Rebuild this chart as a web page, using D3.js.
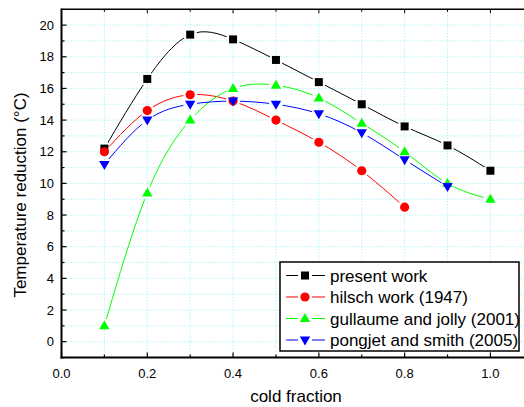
<!DOCTYPE html>
<html><head><meta charset="utf-8">
<script src="https://cdn.jsdelivr.net/npm/d3@7"></script>
<style>body{margin:0;background:#fff}svg{display:block;font-family:"Liberation Sans",Arial,sans-serif}</style>
</head><body>
<svg id="c" width="524" height="407"></svg>
<script>
const coldFraction = [0.1,0.2,0.3,0.4,0.5,0.6,0.7,0.8,0.9,1.0];
const presentWork = [12.2,16.6,19.4,19.1,17.8,16.4,15.0,13.6,12.4,10.8];
const hilschWork = [12.0,14.6,15.6,15.2,14.0,12.6,10.8,8.5];
const gullaumeJolly = [1.0,9.4,14.0,16.0,16.2,15.4,13.8,12.0,10.0,9.0];
const pongjetSmith = [11.2,14.0,15.0,15.2,15.0,14.4,13.2,11.5,9.8];
const seriesNames = ["present work","hilsch work (1947)","gullaume and jolly (2001)","pongjet and smith (2005)"];
const seriesColors = ["#000000","#ff0000","#00ff00","#0000ff"];
const seriesSymbols = ["square","circle","triUp","triDown"];
const xTicks = [0.0,0.2,0.4,0.6,0.8,1.0];
const yTicks = [0,2,4,6,8,10,12,14,16,18,20];
const xLabel = "cold fraction";
const yLabel = "Temperature reduction (\u00B0C)";

const svg = d3.select("#c");
const x = d3.scaleLinear().domain([0,1.1]).range([61.5,533.3]);
const y = d3.scaleLinear().domain([-1,21]).range([357.5,9.3]);
const L = x(0), B = y(-1), T = y(21), R = x(1.1);

// grid
const g = svg.append("g");
d3.range(1,12).map(i=>i/10).forEach(v=>{
  g.append("line").attr("x1",x(v)).attr("x2",x(v)).attr("y1",T).attr("y2",B)
   .attr("stroke","#8ff0f4").attr("stroke-width",1).attr("stroke-dasharray","1,2");
});
d3.range(0,21).forEach(v=>{
  g.append("line").attr("x1",L).attr("x2",R).attr("y1",y(v)).attr("y2",y(v))
   .attr("stroke","#8ff0f4").attr("stroke-width",1).attr("stroke-dasharray","1,2");
});

const allData = [presentWork,hilschWork,gullaumeJolly,pongjetSmith];
const defs = svg.append("defs");
function symPath(type, cx, cy){
  if(type==="square") return `M${cx-4},${cy-4}h8v8h-8z`;
  if(type==="circle") return `M${cx-4.6},${cy}a4.6,4.6 0 1,0 9.2,0a4.6,4.6 0 1,0 -9.2,0z`;
  if(type==="triUp") return `M${cx},${cy-5.5}L${cx+5.2},${cy+3.5}L${cx-5.2},${cy+3.5}z`;
  return `M${cx},${cy+5.5}L${cx+5.2},${cy-3.5}L${cx-5.2},${cy-3.5}z`;
}
const line = d3.line().x(d=>x(d[0])).y(d=>y(d[1])).curve(d3.curveNatural);
allData.forEach((vals,i)=>{
  const pts = vals.map((v,j)=>[coldFraction[j],v]);
  const m = defs.append("mask").attr("id","m"+i).attr("maskUnits","userSpaceOnUse")
    .attr("x",0).attr("y",0).attr("width",524).attr("height",407);
  m.append("rect").attr("width",524).attr("height",407).attr("fill","#fff");
  pts.forEach(p=>m.append("circle").attr("cx",x(p[0])).attr("cy",y(p[1])).attr("r",7).attr("fill","#000"));
  svg.append("path").datum(pts).attr("d",line).attr("fill","none")
    .attr("stroke",seriesColors[i]).attr("stroke-width",1).attr("mask","url(#m"+i+")");
});
allData.forEach((vals,i)=>{
  vals.forEach((v,j)=>{
    svg.append("path").attr("d",symPath(seriesSymbols[i],x(coldFraction[j]),y(v))).attr("fill",seriesColors[i]);
  });
});

// legend
const lg = svg.append("g");
lg.append("rect").attr("x",280).attr("y",262).attr("width",239).attr("height",89)
  .attr("fill","#fff").attr("stroke","#000").attr("stroke-width",1.5);
seriesNames.forEach((n,i)=>{
  const cy = 275.5 + i*21.5;
  lg.append("line").attr("x1",286).attr("x2",298).attr("y1",cy).attr("y2",cy).attr("stroke",seriesColors[i]);
  lg.append("line").attr("x1",312).attr("x2",325).attr("y1",cy).attr("y2",cy).attr("stroke",seriesColors[i]);
  lg.append("path").attr("d",symPath(seriesSymbols[i],305,cy)).attr("fill",seriesColors[i]);
  lg.append("text").attr("x",330).attr("y",cy+6).attr("font-size",17).attr("fill","#000").text(n);
});

// axes
const ax = svg.append("g");
ax.append("line").attr("x1",L).attr("x2",R).attr("y1",T).attr("y2",T).attr("stroke","#000").attr("stroke-width",1.5);
d3.range(1,11).map(i=>i/10).forEach(v=>{
  ax.append("line").attr("x1",x(v)).attr("x2",x(v)).attr("y1",T).attr("y2",T+(Math.round(v*10)%2===0?4:2.5)).attr("stroke","#000");
});
ax.append("line").attr("x1",L).attr("x2",L).attr("y1",T-0.75).attr("y2",B+1).attr("stroke","#000").attr("stroke-width",2);
ax.append("line").attr("x1",L-1).attr("x2",R).attr("y1",B).attr("y2",B).attr("stroke","#000").attr("stroke-width",2);
d3.range(0,11).map(i=>i/10).forEach(v=>{
  const major = Math.round(v*10)%2===0;
  ax.append("line").attr("x1",x(v)).attr("x2",x(v)).attr("y1",B).attr("y2",B-(major?5:3)).attr("stroke","#000").attr("stroke-width",1.2);
});
d3.range(-1,21).forEach(v=>{
  const major = v%2===0;
  ax.append("line").attr("x1",L).attr("x2",L+(major?5:3)).attr("y1",y(v)).attr("y2",y(v)).attr("stroke","#000").attr("stroke-width",1.2);
});
xTicks.forEach(v=>{
  ax.append("text").attr("x",x(v)).attr("y",B+20).attr("text-anchor","middle").attr("font-size",13).text(d3.format(".1f")(v));
});
yTicks.forEach(v=>{
  ax.append("text").attr("x",54).attr("y",y(v)+4.5).attr("text-anchor","end").attr("font-size",13).text(v);
});
svg.append("text").attr("x",296).attr("y",402).attr("text-anchor","middle").attr("font-size",17).text(xLabel);
svg.append("text").attr("transform","translate(26,195) rotate(-90)").attr("text-anchor","middle").attr("font-size",17).text(yLabel);
</script>
</body></html>
